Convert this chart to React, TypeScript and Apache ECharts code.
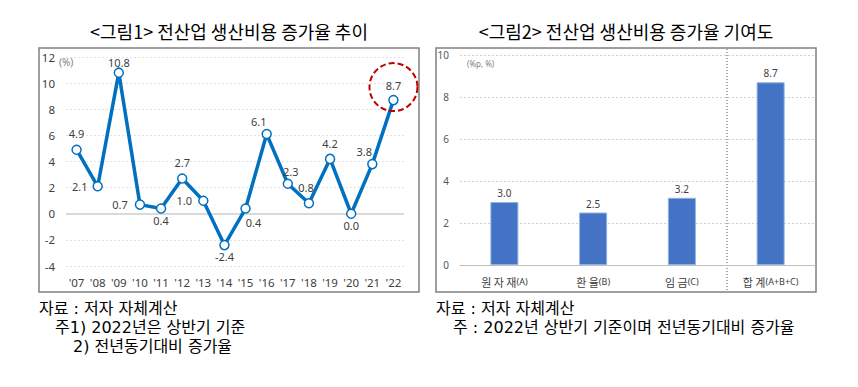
import React, { useEffect, useRef } from "react";
import * as echarts from "echarts";

const years = ["'07", "'08", "'09", "'10", "'11", "'12", "'13", "'14", "'15", "'16", "'17", "'18", "'19", "'20", "'21", "'22"];
const growthRates = [4.9, 2.1, 10.8, 0.7, 0.4, 2.7, 1.0, -2.4, 0.4, 6.1, 2.3, 0.8, 4.2, 0.0, 3.8, 8.7];
const leftTicks = { min: -4, max: 12, interval: 2 };

const factors = ["원자재(A)", "환율(B)", "임금(C)", "합계(A+B+C)"];
const contributions = [3.0, 2.5, 3.2, 8.7];
const rightTicks = { min: 0, max: 10, interval: 2 };

const title1 = "<그림1> 전산업 생산비용 증가율 추이";
const title2 = "<그림2> 전산업 생산비용 증가율 기여도";
const notes1 = ["자료 : 저자 자체계산", "주1) 2022년은 상반기 기준", "2) 전년동기대비 증가율"];
const notes2 = ["자료 : 저자 자체계산", "주 : 2022년 상반기 기준이며 전년동기대비 증가율"];

// label placement per point (style only)
const labelPlacement: Array<[string, number, number]> = [
  ["top", 0, 0],
  ["left", 0, 0],
  ["top", 0, 6],
  ["left", -2, 0],
  ["bottom", 0, -4],
  ["top", 0, 0],
  ["left", -1, 0],
  ["bottom", 0, -4],
  ["bottom", 8, -2],
  ["top", -8, 3],
  ["top", 3, 4],
  ["top", -3, 0],
  ["top", 0, 0],
  ["bottom", 0, -4],
  ["top", -8, 3],
  ["top", 0, 1],
];

const NUM_FONT = "'Noto Sans', 'Liberation Sans', sans-serif";
const KR_FONT = "'Noto Sans CJK KR', 'Noto Sans', sans-serif";
const NOTE_FONT = "'DejaVu Sans', 'Noto Sans CJK KR', sans-serif";

export default function App() {
  const ref = useRef<HTMLDivElement>(null);
  useEffect(() => {
    if (!ref.current) return;
    const chart = echarts.init(ref.current, undefined, { renderer: "svg" });

    const lineData = growthRates.map((v, i) => ({
      value: v,
      label: {
        position: labelPlacement[i][0],
        offset: [labelPlacement[i][1], labelPlacement[i][2]],
      },
    }));

    const noteStyle = { fontSize: 16, fontFamily: NOTE_FONT, fill: "#000", verticalAlign: "middle" };

    const option: any = {
      animation: false,
      backgroundColor: "#ffffff",
      grid: [
        { left: 66, right: 858 - 404, top: 57, bottom: 387 - 266, containLabel: false },
        { left: 460, right: 858 - 815, top: 55, bottom: 387 - 265, containLabel: false },
      ],
      xAxis: [
        {
          gridIndex: 0,
          type: "category",
          data: years,
          boundaryGap: true,
          axisLine: { show: false, onZero: false },
          axisTick: { show: false },
          axisLabel: { color: "#404040", fontSize: 11.5, fontFamily: NUM_FONT, margin: 10, interval: 0 },
        },
        {
          gridIndex: 1,
          type: "category",
          data: factors,
          axisLine: { show: true, lineStyle: { color: "#bfbfbf", width: 1 } },
          axisTick: { show: false },
          axisLabel: {
            interval: 0,
            margin: 11,
            formatter: (v: string) => {
              const i = v.indexOf("(");
              const main = v.slice(0, i).split("").join(" ");
              return `{a|${main}}{b|${v.slice(i)}}`;
            },
            rich: {
              a: { fontSize: 11, color: "#404040", fontFamily: KR_FONT },
              b: { fontSize: 9, color: "#404040", fontFamily: NUM_FONT },
            },
          },
        },
      ],
      yAxis: [
        {
          gridIndex: 0,
          type: "value",
          min: leftTicks.min,
          max: leftTicks.max,
          interval: leftTicks.interval,
          axisLine: { show: false },
          axisTick: { show: false },
          axisLabel: { color: "#404040", fontSize: 11.5, fontFamily: NUM_FONT, margin: 11 },
          splitLine: { show: true, lineStyle: { color: "#e3e3e3", type: [2, 2], width: 1 } },
        },
        {
          gridIndex: 1,
          type: "value",
          min: rightTicks.min,
          max: rightTicks.max,
          interval: rightTicks.interval,
          axisLine: { show: false },
          axisTick: { show: false },
          axisLabel: { color: "#595959", fontSize: 10, fontFamily: NUM_FONT, margin: 11 },
          splitLine: { show: true, lineStyle: { color: "#d0d0d0", type: [2, 2], width: 1 } },
        },
      ],
      series: [
        {
          type: "line",
          xAxisIndex: 0,
          yAxisIndex: 0,
          data: lineData,
          symbol: "circle",
          symbolSize: 9,
          lineStyle: { color: "#0070C0", width: 3.5 },
          itemStyle: { color: "#ffffff", borderColor: "#0070C0", borderWidth: 1.5 },
          label: {
            show: true,
            fontSize: 11,
            color: "#404040",
            fontFamily: NUM_FONT,
            distance: 5,
            formatter: (p: any) => Number(p.value).toFixed(1),
          },
          z: 3,
          markLine: {
            silent: true,
            symbol: ["none", "none"],
            label: { show: false },
            lineStyle: { color: "#d9d9d9", width: 2, type: "solid" },
            data: [{ yAxis: 0 }],
            z: 1,
          },
          markPoint: {
            silent: true,
            symbol: "circle",
            symbolSize: 48,
            symbolOffset: [0, -13],
            label: { show: false },
            itemStyle: { color: "rgba(0,0,0,0)", borderColor: "#C00000", borderWidth: 2, borderType: [6, 3] },
            data: [{ coord: [years[years.length - 1], growthRates[growthRates.length - 1]] }],
          },
        },
        {
          type: "bar",
          xAxisIndex: 1,
          yAxisIndex: 1,
          data: contributions,
          barWidth: 28,
          itemStyle: { color: "#4472C4", borderColor: "#8DB3E2", borderWidth: 1 },
          label: {
            show: true,
            position: "top",
            distance: 4,
            fontSize: 10,
            color: "#404040",
            fontFamily: NUM_FONT,
            formatter: (p: any) => Number(p.value).toFixed(1),
          },
        },
      ],
      graphic: [
        {
          type: "rect",
          shape: { x: 39, y: 48, width: 380, height: 244 },
          style: { fill: "none", stroke: "#808080", lineWidth: 1.5 },
          silent: true,
        },
        {
          type: "rect",
          shape: { x: 436, y: 48, width: 380, height: 244 },
          style: { fill: "none", stroke: "#808080", lineWidth: 1.5 },
          silent: true,
        },
        {
          type: "line",
          shape: { x1: 727, y1: 49, x2: 727, y2: 291 },
          style: { stroke: "#595959", lineWidth: 1, lineDash: [1, 2] },
          silent: true,
        },
        {
          type: "text",
          x: 229,
          y: 31,
          style: { text: title1, fontSize: 18, fontFamily: KR_FONT, fill: "#000", align: "center", verticalAlign: "middle" },
        },
        {
          type: "text",
          x: 626,
          y: 31,
          style: { text: title2, fontSize: 18, fontFamily: KR_FONT, fill: "#000", align: "center", verticalAlign: "middle" },
        },
        {
          type: "text",
          x: 59,
          y: 62,
          style: { text: "(%)", fontSize: 10, fontFamily: NUM_FONT, fill: "#7f7f7f", verticalAlign: "middle" },
        },
        {
          type: "text",
          x: 467,
          y: 63,
          style: { text: "(%p, %)", fontSize: 8, fontFamily: NUM_FONT, fill: "#7f7f7f", verticalAlign: "middle" },
        },
        { type: "text", x: 39, y: 308, style: { ...noteStyle, text: notes1[0] } },
        { type: "text", x: 55, y: 327, style: { ...noteStyle, text: notes1[1] } },
        { type: "text", x: 73, y: 346, style: { ...noteStyle, text: notes1[2] } },
        { type: "text", x: 436, y: 308, style: { ...noteStyle, text: notes2[0] } },
        { type: "text", x: 453, y: 327, style: { ...noteStyle, text: notes2[1] } },
      ],
    };

    chart.setOption(option);
    return () => chart.dispose();
  }, []);

  return (
    <div
      ref={ref}
      style={{ position: "absolute", left: 0, top: 0, width: 858, height: 387, background: "#fff" }}
    />
  );
}
